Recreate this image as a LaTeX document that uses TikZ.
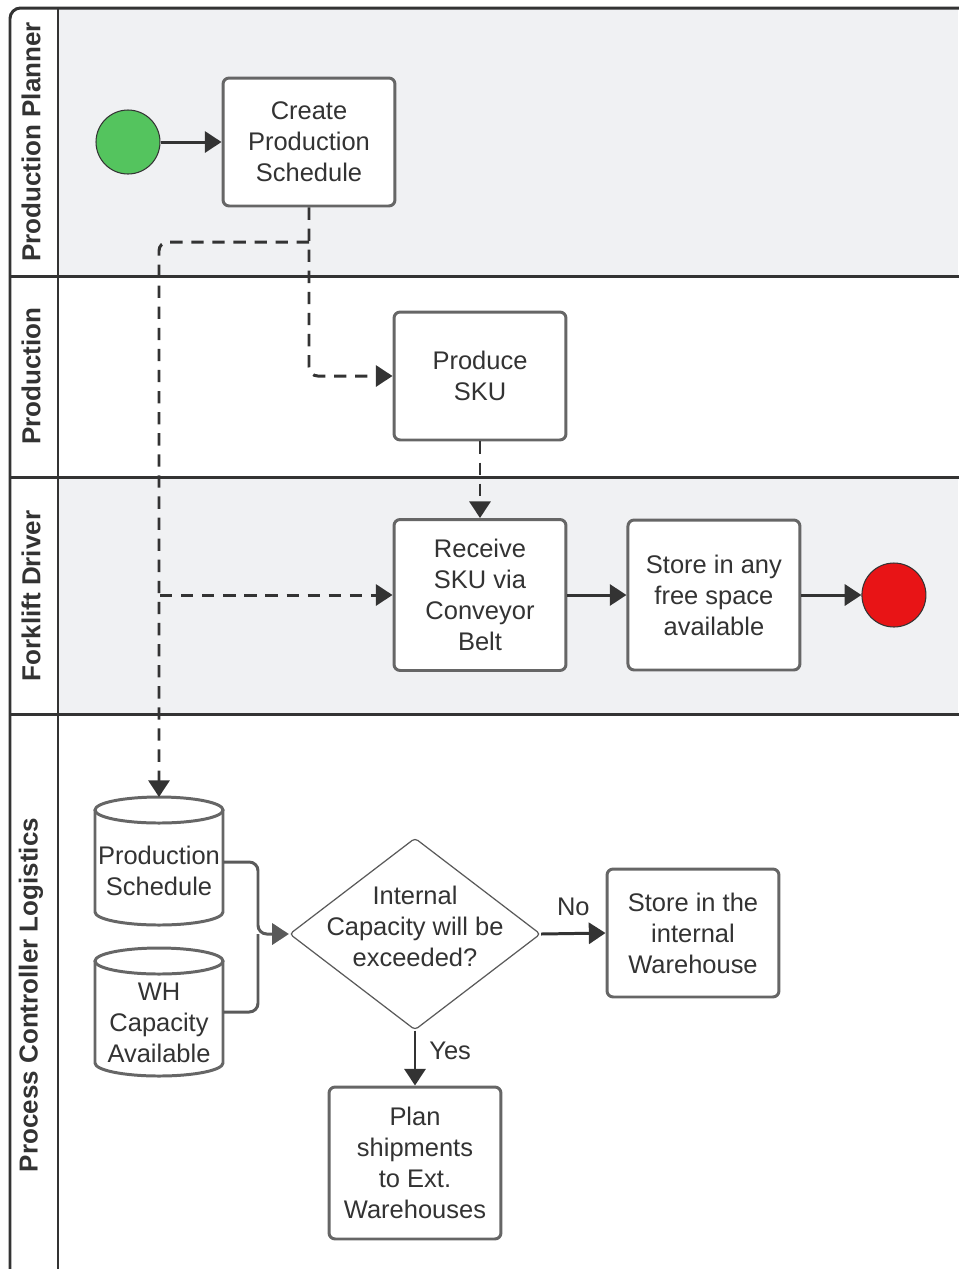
\documentclass[tikz,border=0pt]{standalone}
\usepackage{fontspec}
\setmainfont{Liberation Sans}
\usepackage{tikz}
\usetikzlibrary{positioning,arrows.meta,shapes.geometric}

\definecolor{lanegray}{HTML}{F0F1F3}
\definecolor{ink}{HTML}{333333}
\definecolor{boxline}{HTML}{666666}
\definecolor{dataline}{HTML}{5A5A5A}
\definecolor{startgreen}{HTML}{54C45E}
\definecolor{endred}{HTML}{E81416}

\tikzset{
  lanetitle/.style={rotate=90, font=\bfseries\fontsize{14.8}{17}\selectfont, text=ink},
  task/.style={draw=boxline, line width=1.7pt, fill=white, rounded corners=3.5pt,
    minimum width=3.44cm, minimum height=2.56cm, align=center, text=ink,
    font=\fontsize{14.5}{17.6}\selectfont, inner sep=2pt},
  event/.style={circle, draw=ink, line width=0.6pt, minimum size=1.28cm},
  decision/.style={diamond, draw=dataline, line width=0.7pt, fill=white, rounded corners=2pt,
    minimum width=5.02cm, minimum height=3.84cm, inner sep=0pt},
  dbtext/.style={align=center, text=ink, font=\fontsize{14.5}{17.6}\selectfont,
    minimum width=2.56cm, inner sep=0pt},
  dbline/.style={draw=boxline, line width=1.7pt, fill=white},
  flow/.style={draw=ink, line width=1.7pt, -{Triangle[length=9.5pt,width=12pt]}},
  msg/.style={flow, dash pattern=on 7pt off 5pt, rounded corners=5pt},
  datalink/.style={draw=dataline, line width=1.7pt, rounded corners=5pt},
  txt/.style={text=ink, font=\fontsize{14.5}{17.6}\selectfont},
}

\begin{document}
\begin{tikzpicture}[x=0.02cm, y=-0.02cm]
\useasboundingbox (0,0) rectangle (958,1269);

% lanes
\fill[lanegray] (58,8) rectangle (958,276);
\fill[lanegray] (58,477) rectangle (958,714);
\draw[ink, line width=1.7pt, rounded corners=6pt] (10,1280) -- (10,8) -- (970,8);
\draw[ink, line width=1.7pt] (58,8) -- (58,1280);
\foreach \y in {276,477,714}
  \draw[ink, line width=1.7pt] (10,\y) -- (970,\y);

\node[lanetitle] (planner) at (31,142) {Production Planner};
\node[lanetitle] (production) at (31,376) {Production};
\node[lanetitle] (forklift) at (31,596) {Forklift Driver};
\node[lanetitle] (logistics) at (31,995) {Process Controller Logistics};

% tasks and events
\node[event, fill=startgreen] (start) at (128,142) {};
\node[task] (create) at (309,142) {Create\\Production\\Schedule};
\node[task] (produce) at (480,376) {Produce\\SKU};
\node[task, minimum height=3.02cm] (receive) at (480,595) {Receive\\SKU via\\Conveyor\\Belt};
\node[task, minimum height=3cm, right=1.18cm of receive] (storeany) {Store in any\\free space\\available};
\node[event, fill=endred, right=1.2cm of storeany] (end) {};

% data stores
\foreach \cy in {861,1012} {
  \draw[dbline] (95,\cy-51) -- (95,\cy+51) arc[start angle=180, end angle=0, x radius=64, y radius=13] -- (223,\cy-51);
  \draw[dbline] (159,\cy-51) ellipse[x radius=64, y radius=13];
}
\node[dbtext] (pschedule) at (159,871) {Production\\Schedule};
\node[dbtext] (whcap) at (159,1023) {WH\\Capacity\\Available};
\coordinate (pschedtop) at (159,797);

\node[decision, label={[txt, align=center, yshift=0.16cm]center:Internal\\Capacity will be\\exceeded?}] (decide) at (415,934) {};
\node[task] (storeint) at (693,933) {Store in the\\internal\\Warehouse};
\node[task, minimum height=3.04cm] (plan) at (415,1163) {Plan\\shipments\\to Ext.\\Warehouses};

% sequence flow
\draw[flow] (start) -- (create);
\draw[flow] (receive) -- (storeany);
\draw[flow] (storeany) -- (end);
\draw[flow] (decide.east) -- node[txt, above=6pt] {No} (storeint.west);
\draw[flow] (decide.south) -- node[txt, right=4pt, yshift=0.15cm] {Yes} (plan.north);

% dashed links from the schedule
\coordinate (split) at (309,242);
\coordinate (fork) at (160,595);
\draw[msg] (create.south) |- (produce.west);
\draw[msg] (split) -| (pschedtop);
\draw[msg] (fork) -- (receive.west);
\draw[msg] (produce.south) -- (receive.north);

% inputs of the decision
\coordinate (merge) at (258,934);
\draw[datalink, -{Triangle[length=9.5pt,width=12pt]}] ([yshift=0.18cm]pschedule.east) -| (merge) -- (decide.west);
\draw[datalink] ([yshift=0.22cm]whcap.east) -| (merge);

\end{tikzpicture}
\end{document}
